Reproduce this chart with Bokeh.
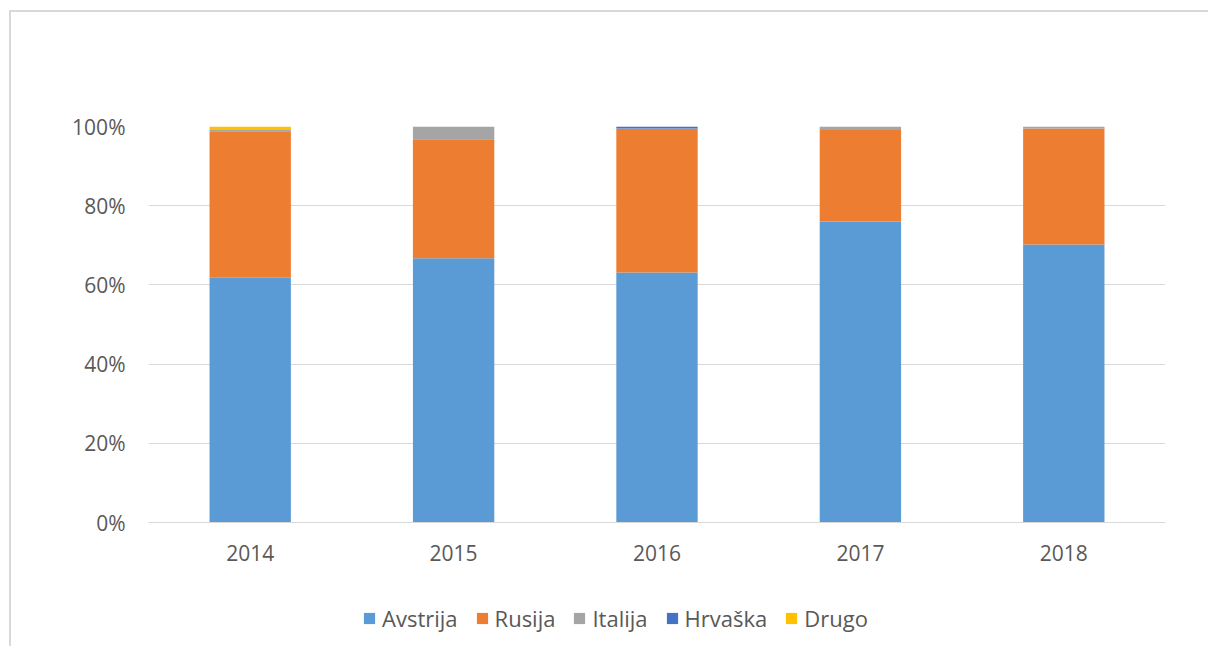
from bokeh.plotting import figure
from bokeh.layouts import column
from bokeh.models import ColumnDataSource, FactorRange, Range1d, NumeralTickFormatter, Legend, FixedTicker
from bokeh.embed import file_html
from bokeh.resources import INLINE

years = ["2014", "2015", "2016", "2017", "2018"]
avstrija = [61.8, 66.7, 63.1, 76.0, 70.2]
rusija = [37.0, 30.1, 36.3, 23.1, 29.3]
italija = [0.3, 3.2, 0.1, 0.9, 0.5]
hrvaska = [0.0, 0.0, 0.5, 0.0, 0.0]
drugo = [0.9, 0.0, 0.0, 0.0, 0.0]

series = ["Avstrija", "Rusija", "Italija", "Hrvaška", "Drugo"]
colors = ["#5B9BD5", "#ED7D31", "#A5A5A5", "#4472C4", "#FFC000"]

data = {"years": years}
for name, vals in zip(series, [avstrija, rusija, italija, hrvaska, drugo]):
    data[name] = [v / 100.0 for v in vals]
source = ColumnDataSource(data)

FONT = "Open Sans"
TXT = "#595959"

p = figure(x_range=FactorRange(*years, range_padding=0), y_range=Range1d(0, 1.0),
           width=1197, height=578, output_backend="svg", toolbar_location=None,
           min_border_left=137, min_border_right=43, min_border_top=114, min_border_bottom=68)

r = p.vbar_stack(series, x="years", width=0.4, color=colors, source=source, line_width=0)

p.yaxis.ticker = FixedTicker(ticks=[0, 0.2, 0.4, 0.6, 0.8, 1.0])
p.yaxis.formatter = NumeralTickFormatter(format="0%")
p.yaxis.axis_line_color = None
p.yaxis.major_tick_line_color = None
p.yaxis.minor_tick_line_color = None
p.yaxis.major_label_text_font = FONT
p.yaxis.major_label_text_font_size = "21px"
p.yaxis.major_label_text_color = TXT
p.yaxis.major_label_standoff = 17

p.xaxis.axis_line_color = "#d9d9d9"
p.xaxis.major_tick_line_color = None
p.xaxis.minor_tick_line_color = None
p.xaxis.major_label_text_font = FONT
p.xaxis.major_label_text_font_size = "21px"
p.xaxis.major_label_text_color = TXT
p.xaxis.major_label_standoff = 16

p.xgrid.grid_line_color = None
p.ygrid.grid_line_color = "#d9d9d9"
p.ygrid.grid_line_width = 1
p.outline_line_color = None

# legend strip below the chart
p2 = figure(x_range=FactorRange(*years), y_range=Range1d(10, 11),
            width=1197, height=56, output_backend="svg", toolbar_location=None,
            x_axis_location=None, y_axis_location=None,
            min_border_left=0, min_border_right=0, min_border_top=0, min_border_bottom=0)
p2.xgrid.grid_line_color = None
p2.ygrid.grid_line_color = None
p2.outline_line_color = None
r2 = p2.vbar_stack(series, x="years", width=0.4, color=colors, source=source, line_width=0)

legend = Legend(items=[(s, [rr]) for s, rr in zip(series, r2)], orientation="horizontal",
                location=(214, 13), label_text_font=FONT, label_text_font_size="22px",
                label_text_color=TXT, glyph_width=14, glyph_height=14, spacing=17,
                label_standoff=6, padding=0, margin=0, border_line_color=None,
                background_fill_alpha=0)
p2.add_layout(legend, "center")

layout = column(p, p2, spacing=0)
layout.styles = {"border-top": "2px solid #d9d9d9", "border-left": "2px solid #d9d9d9",
                 "margin-left": "9px", "margin-top": "10px"}

open("out.html", "w").write(file_html(layout, INLINE))
